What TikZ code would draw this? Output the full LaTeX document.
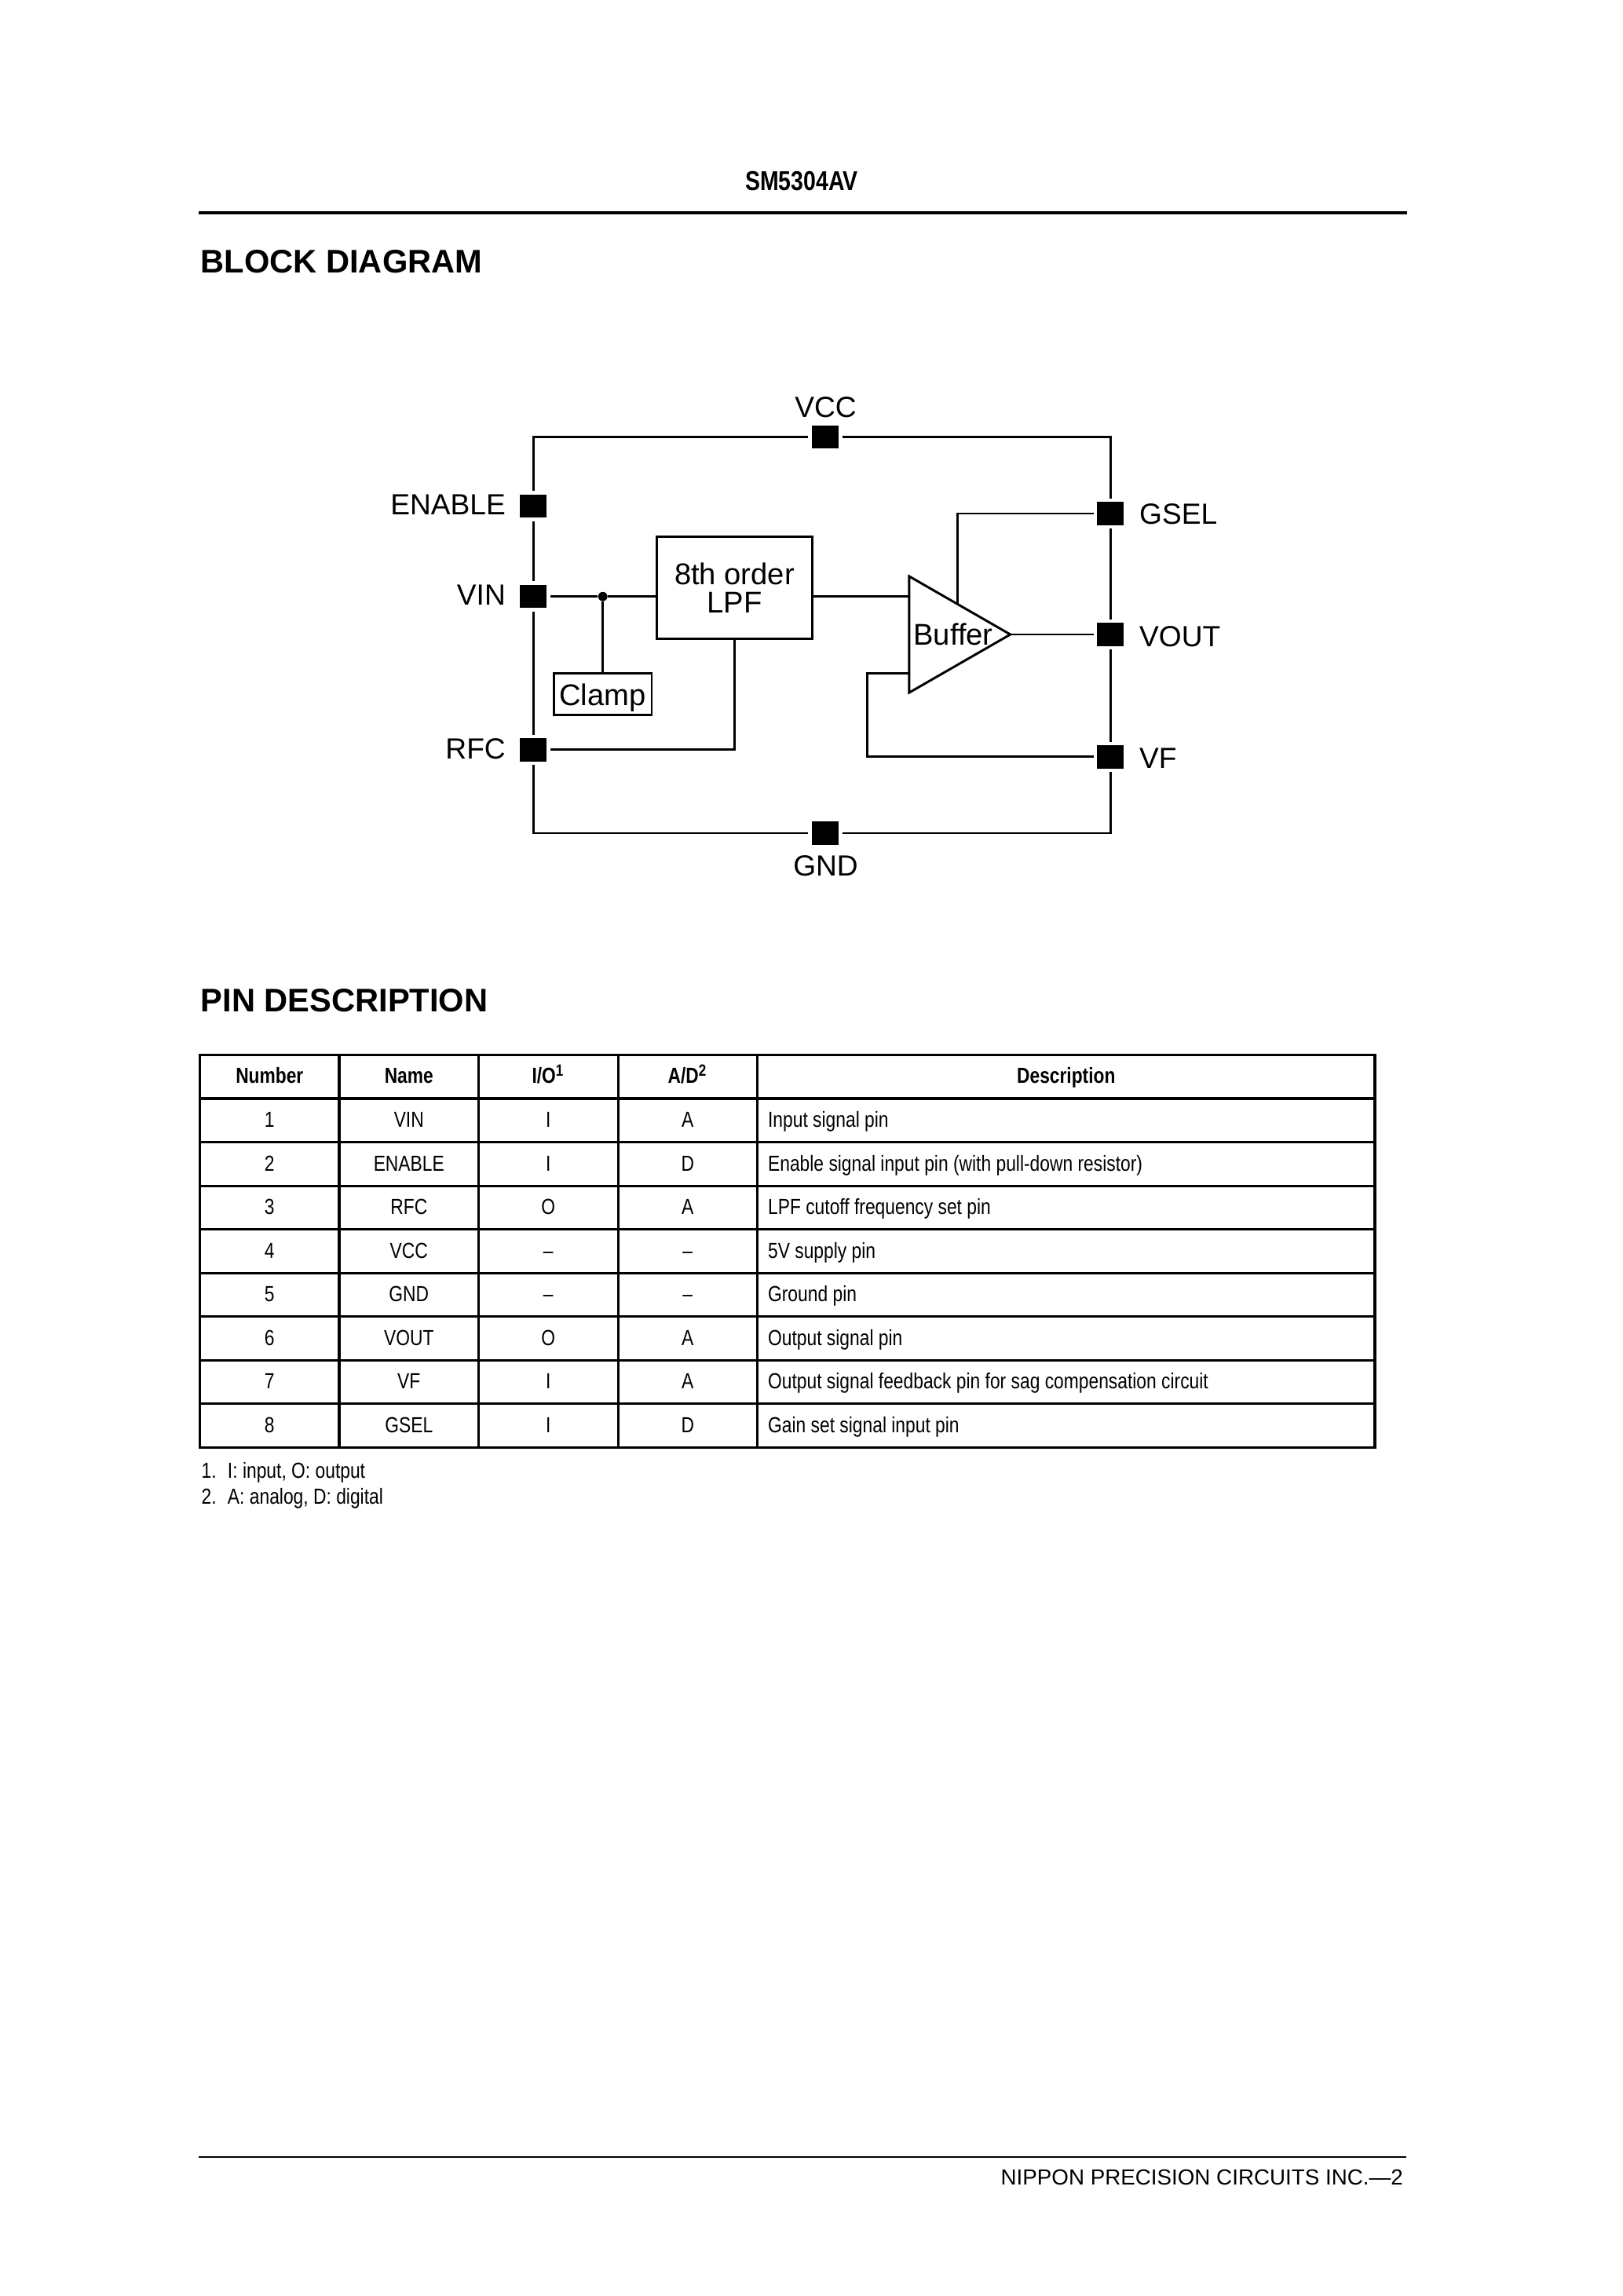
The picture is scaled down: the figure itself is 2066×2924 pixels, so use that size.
\documentclass[tikz,border=0pt]{standalone}
\usepackage{fontspec}
\setmainfont{Liberation Sans}
\newfontfamily\narrowfont[FakeStretch=0.822, BoldFeatures={FakeStretch=0.82}]{Liberation Sans}
\usepackage{tikz}
\usetikzlibrary{calc, shapes.geometric, positioning}

\begin{document}
\begin{tikzpicture}[
        x=0.28813pt, y=-0.28813pt,
        wire/.style = {draw=black, line width=0.85pt},
        rulerline/.style = {draw=black, line width=1pt},
        pad/.style = {fill=black, rectangle, minimum width=9.8pt, minimum height=8.5pt, inner sep=0pt, outer sep=1.3pt},
        padlabel/.style = {font=\fontsize{10.7}{12}\selectfont, inner sep=0pt, anchor=base},
        leftlabel/.style = {padlabel, anchor=base east},
        rightlabel/.style = {padlabel, anchor=base west},
        block/.style = {draw=black, rectangle, line width=0.85pt, inner sep=0pt, outer sep=0pt, align=center, font=\fontsize{11}{10.5}\selectfont},
        junction/.style = {fill=black, circle, minimum size=3.4pt, inner sep=0pt},
        amp/.style = {draw=black, isosceles triangle, isosceles triangle apex angle=59.8, minimum height=37.1pt, inner sep=0pt, outer sep=0pt, line width=0.85pt, anchor=apex},
        cell/.style = {draw=black, rectangle, line width=0.9pt, minimum width=51.15pt, minimum height=16pt, inner sep=0pt, outer sep=0pt, text height=6.4pt, text depth=1.4pt, font=\narrowfont\fontsize{8}{9}\selectfont},
        headcell/.style = {cell, font=\narrowfont\bfseries\fontsize{8}{9}\selectfont},
        desccell/.style = {cell, minimum width=226.6pt, text width=218.8pt, inner xsep=3.9pt, align=flush left},
        deschead/.style = {headcell, minimum width=226.6pt},
        note/.style = {font=\narrowfont\fontsize{8}{9}\selectfont, inner sep=0pt, anchor=base west},
        sectiontitle/.style = {font=\bfseries\fontsize{12}{14}\selectfont, inner sep=0pt, anchor=base west}
    ]

        \useasboundingbox (0,0) rectangle (2066,2924);

        % === Page head and foot ===
        \node (partno) [font=\narrowfont\bfseries\fontsize{10}{12}\selectfont, inner sep=0pt, anchor=base] at (1021,242) {SM5304AV};
        \coordinate (headleft) at (253,271);
        \coordinate (headright) at (1792,271);
        \draw [rulerline] (headleft) -- (headright);

        \node (blocktitle) [sectiontitle] at (255,347) {BLOCK DIAGRAM};
        \node (pintitle) [sectiontitle] at (255,1288) {PIN DESCRIPTION};

        \coordinate (footleft) at (253,2747);
        \coordinate (footright) at (1791,2747);
        \draw [rulerline, line width=0.8pt] (footleft) -- (footright);
        \node (company) [font=\fontsize{8}{10}\selectfont, inner sep=0pt, anchor=base east] at (1787.5,2782) {NIPPON PRECISION CIRCUITS INC.—2};

        % === Pads ===
        \node (vcc) [pad] at (1051,556.5) {};
        \node (gnd) [pad] at (1051,1061) {};
        \node (enable) [pad] at (679.4,644.7) {};
        \node (vin) [pad] at (679.4,759.7) {};
        \node (rfc) [pad] at (679.4,954.8) {};
        \node (gsel) [pad] at (1414.4,654) {};
        \node (vout) [pad] at (1414.4,808) {};
        \node (vf) [pad] at (1414.4,963.8) {};

        \node (vcclabel) [padlabel] at (1051.5,531) {VCC};
        \node (gndlabel) [padlabel] at (1051.5,1115) {GND};
        \node (enablelabel) [leftlabel] at (644.5,655) {ENABLE};
        \node (vinlabel) [leftlabel] at (644.5,770.5) {VIN};
        \node (rfclabel) [leftlabel] at (644.5,966.5) {RFC};
        \node (gsellabel) [rightlabel] at (1450.5,667) {GSEL};
        \node (voutlabel) [rightlabel] at (1450.5,823) {VOUT};
        \node (vflabel) [rightlabel] at (1450.5,978.5) {VF};

        % === Blocks ===
        \node (lpf) [block, minimum width=56.8pt, minimum height=37.4pt] at (935.5,748.6) {8th order\\LPF};
        \node (clamp) [block, minimum width=36pt, minimum height=15.4pt, text height=10.3pt, text depth=2pt] at (767.5,884) {Clamp};
        \node (buffer) [amp] at (1286.7,808) {};
        \node (bufferlabel) [padlabel, font=\fontsize{11}{12}\selectfont] at (1214,821.5) {Buffer};
        \node (tap) [junction] at (767.7,759.7) {};

        % === Wires ===
        % Outer ring
        \draw [wire] (enable) |- (vcc);
        \draw [wire] (vcc) -| (gsel);
        \draw [wire] (enable) -- (vin);
        \draw [wire] (vin) -- (rfc);
        \draw [wire] (rfc) |- (gnd);
        \draw [wire] (gnd) -| (vf);
        \draw [wire] (gsel) -- (vout);
        \draw [wire] (vout) -- (vf);

        % Signal path
        \draw [wire] (vin) -- (tap) -- (tap -| lpf.west);
        \draw [wire] (tap) -- (tap |- clamp.north);
        \draw [wire] (rfc) -| (lpf.south);
        \draw [wire] (tap -| lpf.east) -- (tap -| buffer.west);
        \draw [wire] (buffer.apex) -- (vout);

        % Gain select and feedback
        \coordinate (gselfoot) at ($(buffer.left corner)!0.475!(buffer.apex)$);
        \draw [wire] (gsel) -| (gselfoot);
        \coordinate (feedback) at (1104.4,857.3);
        \draw [wire] (vf) -| (feedback) -- (feedback -| buffer.west);

        % === Pin table ===
        \node (numhead) [headcell, anchor=north west] at (254.5,1343.5) {Number};
        \node (namehead) [headcell, right=0pt of numhead] {Name};
        \node (iohead) [headcell, right=0pt of namehead] {I/O\textsuperscript{1}};
        \node (adhead) [headcell, right=0pt of iohead] {A/D\textsuperscript{2}};
        \node (deschd) [deschead, right=0pt of adhead] {Description};

        \node (num1) [cell, below=0pt of numhead] {1};
        \node (name1) [cell, right=0pt of num1] {VIN};
        \node (io1) [cell, right=0pt of name1] {I};
        \node (ad1) [cell, right=0pt of io1] {A};
        \node (desc1) [desccell, right=0pt of ad1] {Input signal pin};

        \node (num2) [cell, below=0pt of num1] {2};
        \node (name2) [cell, right=0pt of num2] {ENABLE};
        \node (io2) [cell, right=0pt of name2] {I};
        \node (ad2) [cell, right=0pt of io2] {D};
        \node (desc2) [desccell, right=0pt of ad2] {Enable signal input pin (with pull-down resistor)};

        \node (num3) [cell, below=0pt of num2] {3};
        \node (name3) [cell, right=0pt of num3] {RFC};
        \node (io3) [cell, right=0pt of name3] {O};
        \node (ad3) [cell, right=0pt of io3] {A};
        \node (desc3) [desccell, right=0pt of ad3] {LPF cutoff frequency set pin};

        \node (num4) [cell, below=0pt of num3] {4};
        \node (name4) [cell, right=0pt of num4] {VCC};
        \node (io4) [cell, right=0pt of name4] {–};
        \node (ad4) [cell, right=0pt of io4] {–};
        \node (desc4) [desccell, right=0pt of ad4] {5V supply pin};

        \node (num5) [cell, below=0pt of num4] {5};
        \node (name5) [cell, right=0pt of num5] {GND};
        \node (io5) [cell, right=0pt of name5] {–};
        \node (ad5) [cell, right=0pt of io5] {–};
        \node (desc5) [desccell, right=0pt of ad5] {Ground pin};

        \node (num6) [cell, below=0pt of num5] {6};
        \node (name6) [cell, right=0pt of num6] {VOUT};
        \node (io6) [cell, right=0pt of name6] {O};
        \node (ad6) [cell, right=0pt of io6] {A};
        \node (desc6) [desccell, right=0pt of ad6] {Output signal pin};

        \node (num7) [cell, below=0pt of num6] {7};
        \node (name7) [cell, right=0pt of num7] {VF};
        \node (io7) [cell, right=0pt of name7] {I};
        \node (ad7) [cell, right=0pt of io7] {A};
        \node (desc7) [desccell, right=0pt of ad7] {Output signal feedback pin for sag compensation circuit};

        \node (num8) [cell, below=0pt of num7] {8};
        \node (name8) [cell, right=0pt of num8] {GSEL};
        \node (io8) [cell, right=0pt of name8] {I};
        \node (ad8) [cell, right=0pt of io8] {D};
        \node (desc8) [desccell, right=0pt of ad8] {Gain set signal input pin};

        % === Footnotes ===
        \node (note1) [note] at (256,1882) {\makebox[9.6pt][l]{1.}I: input, O: output};
        \node (note2) [note] at (256,1915) {\makebox[9.6pt][l]{2.}A: analog, D: digital};

    \end{tikzpicture}
\end{document}
